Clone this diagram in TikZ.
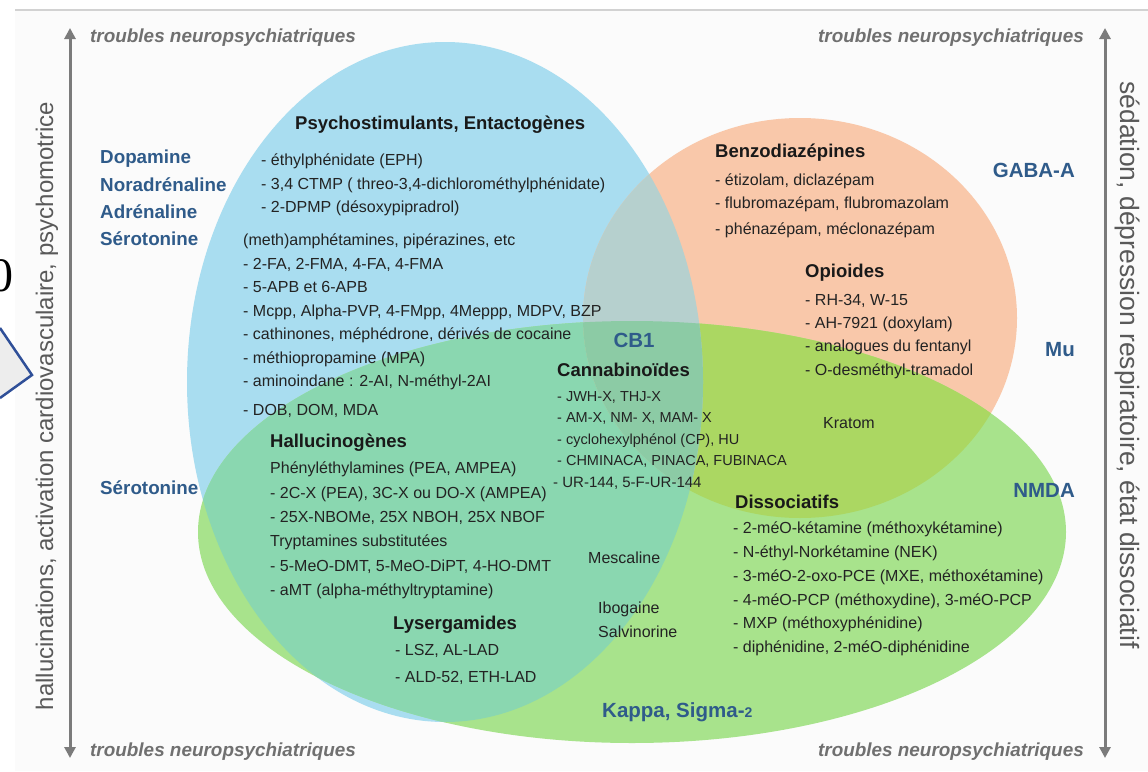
\documentclass[tikz,border=0pt]{standalone}
\usepackage{fontspec}
\setmainfont{Liberation Sans}
\newfontfamily\zerofont{Liberation Serif}
\usetikzlibrary{arrows.meta,positioning}

\definecolor{pagebg}{HTML}{FBFBFB}
\definecolor{topline}{HTML}{D2D2D2}
\definecolor{psyblue}{HTML}{A9DDF0}
\definecolor{sedorange}{HTML}{F9C8AA}
\definecolor{disgreen}{HTML}{A8E38C}
\definecolor{tealmix}{HTML}{8AD7B0}
\definecolor{olivemix}{HTML}{ABD762}
\definecolor{greymix}{HTML}{B6D0CE}
\definecolor{centremix}{HTML}{8CCBA5}
\definecolor{recblue}{HTML}{2F5B8A}
\definecolor{axisgrey}{HTML}{7B7B7B}
\definecolor{troublegrey}{HTML}{707070}
\definecolor{axistext}{HTML}{595959}
\definecolor{itemtext}{HTML}{232323}
\definecolor{chevblue}{HTML}{2F4F98}
\definecolor{chevfill}{HTML}{EDEDED}

% the three sets
\newcommand{\psyset}{(445,382) ellipse [x radius=258, y radius=340]}
\newcommand{\sedset}{(800,318) ellipse [x radius=217, y radius=200]}
\newcommand{\disset}{(632,532) ellipse [x radius=434, y radius=211]}

\begin{document}
\begin{tikzpicture}[x=1pt,y=-1pt,
    head/.style={font=\bfseries\fontsize{18.5}{20}\selectfont, text=black!90, anchor=west, inner sep=0pt},
    items/.style={font=\fontsize{16}{#1}\selectfont, text=itemtext, align=left, anchor=north west, inner sep=0pt},
    items/.default=23.5,
    recep/.style={font=\bfseries\fontsize{20.5}{27.3}\selectfont, text=recblue, inner sep=0pt},
    trouble/.style={font=\bfseries\itshape\fontsize{18.9}{21}\selectfont, text=troublegrey, inner sep=0pt},
    axislabel/.style={font=\fontsize{24}{26}\selectfont, text=axistext, inner sep=0pt},
    axis/.style={draw=axisgrey, line width=3pt, {Triangle[length=11pt,width=11pt]}-{Triangle[length=11pt,width=11pt]}}]

    \useasboundingbox (0,0) rectangle (1148,771);
    \fill[white] (0,0) rectangle (1148,771);
    \fill[pagebg] (15,11) rectangle (1148,771);
    \draw[topline, line width=1.5pt] (15,10) -- (1148,10);

    % chevron and digit cut at the left edge
    \fill[chevfill] (0,328) -- (32,375) -- (0,398) -- cycle;
    \draw[chevblue, line width=2.5pt] (0,328) -- (32,375) -- (0,398);
    \node[font=\zerofont\fontsize{48}{48}\selectfont, anchor=east, inner sep=0pt] (zero) at (14,276) {0};

    % sets and overlaps
    \fill[psyblue] \psyset;
    \fill[sedorange] \sedset;
    \fill[disgreen] \disset;
    \begin{scope}
        \clip \psyset;
        \fill[tealmix] \disset;
    \end{scope}
    \begin{scope}
        \clip \sedset;
        \fill[olivemix] \disset;
    \end{scope}
    \begin{scope}
        \clip \psyset;
        \fill[greymix] \sedset;
        \clip \sedset;
        \fill[centremix] \disset;
    \end{scope}

    % axes
    \coordinate (ltop) at (70,28);
    \coordinate (lbot) at (70,758);
    \coordinate (rtop) at (1105,28);
    \coordinate (rbot) at (1105,758);
    \draw[axis] (lbot) -- (ltop);
    \draw[axis] (rbot) -- (rtop);

    \node[trouble, anchor=west] (tl) at (90,38) {troubles neuropsychiatriques};
    \node[trouble, anchor=east] (tr) at (1084,38) {troubles neuropsychiatriques};
    \node[trouble, anchor=west] (bl) at (90,752) {troubles neuropsychiatriques};
    \node[trouble, anchor=east] (br) at (1084,752) {troubles neuropsychiatriques};

    \node[axislabel, rotate=90] (halluc) at (47,406) {hallucinations, activation cardiovasculaire, psychomotrice};
    \node[axislabel, rotate=-90, font=\fontsize{26.5}{28}\selectfont] (sedat) at (1127,365) {sédation, dépression respiratoire, état dissociatif};

    % receptors
    \node[recep, align=left, anchor=north west, font=\bfseries\fontsize{18.8}{27.3}\selectfont] (mono) at (100,150)
        {Dopamine\\ Noradrénaline\\ Adrénaline\\ Sérotonine};
    \node[recep, anchor=west, font=\bfseries\fontsize{18.8}{20}\selectfont] (sero) at (100,488) {Sérotonine};
    \node[recep, anchor=east] (gaba) at (1075,170) {GABA-A};
    \node[recep, anchor=east] (mu) at (1075,350) {Mu};
    \node[recep, anchor=east] (nmda) at (1075,490) {NMDA};
    \node[recep] (cb1) at (634,340) {CB1};
    \node[recep, anchor=west] (kappa) at (602,712) {Kappa, Sigma-{\fontsize{14}{14}\selectfont 2}};

    % psychostimulants
    \node[head] (psy) at (295,125) {Psychostimulants, Entactogènes};
    \node[items] (psya) at (261,154) {- éthylphénidate (EPH)\\ - 3,4 CTMP ( threo-3,4-dichlorométhylphénidate)\\ - 2-DPMP (désoxypipradrol)};
    \node[items] (psyb) at (243,234) {(meth)amphétamines, pipérazines, etc\\ - 2-FA, 2-FMA, 4-FA, 4-FMA\\ - 5-APB et 6-APB\\
        - Mcpp, Alpha-PVP, 4-FMpp, 4Meppp, MDPV, BZP\\ - cathinones, méphédrone, dérivés de cocaine\\
        - méthiopropamine (MPA)\\ - aminoindane : 2-AI, N-méthyl-2AI\\[5pt] - DOB, DOM, MDA};

    % hallucinogenes
    \node[head] (hal) at (270,443) {Hallucinogènes};
    \node[items=24.3] (hala) at (270,462) {Phényléthylamines (PEA, AMPEA)\\ - 2C-X (PEA), 3C-X ou DO-X (AMPEA)\\
        - 25X-NBOMe, 25X NBOH, 25X NBOF\\ Tryptamines substitutées\\ - 5-MeO-DMT, 5-MeO-DiPT, 4-HO-DMT\\
        - aMT (alpha-méthyltryptamine)};
    \node[head] (lys) at (393,625) {Lysergamides};
    \node[items=27] (lysa) at (395,644) {- LSZ, AL-LAD\\ - ALD-52, ETH-LAD};

    % cannabinoides
    \node[head] (can) at (557,370) {Cannabinoïdes};
    \node[items=21.5, font=\fontsize{14.5}{21.5}\selectfont] (cana) at (557,391) {- JWH-X, THJ-X\\ - AM-X, NM- X, MAM- X\\
        - cyclohexylphénol (CP), HU\\ - CHMINACA, PINACA, FUBINACA};
    \node[items, anchor=west, font=\fontsize{15}{17}\selectfont] (canb) at (553,483) {- UR-144, 5-F-UR-144};

    % sedatifs
    \node[head] (ben) at (715,153) {Benzodiazépines};
    \node[items=23] (bena) at (715,174) {- étizolam, diclazépam\\ - flubromazépam, flubromazolam\\[3pt] - phénazépam, méclonazépam};
    \node[head] (opi) at (805,273) {Opioides};
    \node[items=23.3] (opia) at (805,294) {- RH-34, W-15\\ - AH-7921 (doxylam)\\ - analogues du fentanyl\\ - O-desméthyl-tramadol};
    \node[items, anchor=west] (kra) at (823,423) {Kratom};

    % dissociatifs
    \node[head] (dis) at (735,502) {Dissociatifs};
    \node[items=23.7] (disa) at (733,522) {- 2-méO-kétamine (méthoxykétamine)\\ - N-éthyl-Norkétamine (NEK)\\
        - 3-méO-2-oxo-PCE (MXE, méthoxétamine)\\ - 4-méO-PCP (méthoxydine), 3-méO-PCP\\
        - MXP (méthoxyphénidine)\\ - diphénidine, 2-méO-diphénidine};

    \node[items, anchor=west] (mesc) at (588,558) {Mescaline};
    \node[items=24] (ibo) at (598,602) {Ibogaine\\ Salvinorine};

\end{tikzpicture}
\end{document}
